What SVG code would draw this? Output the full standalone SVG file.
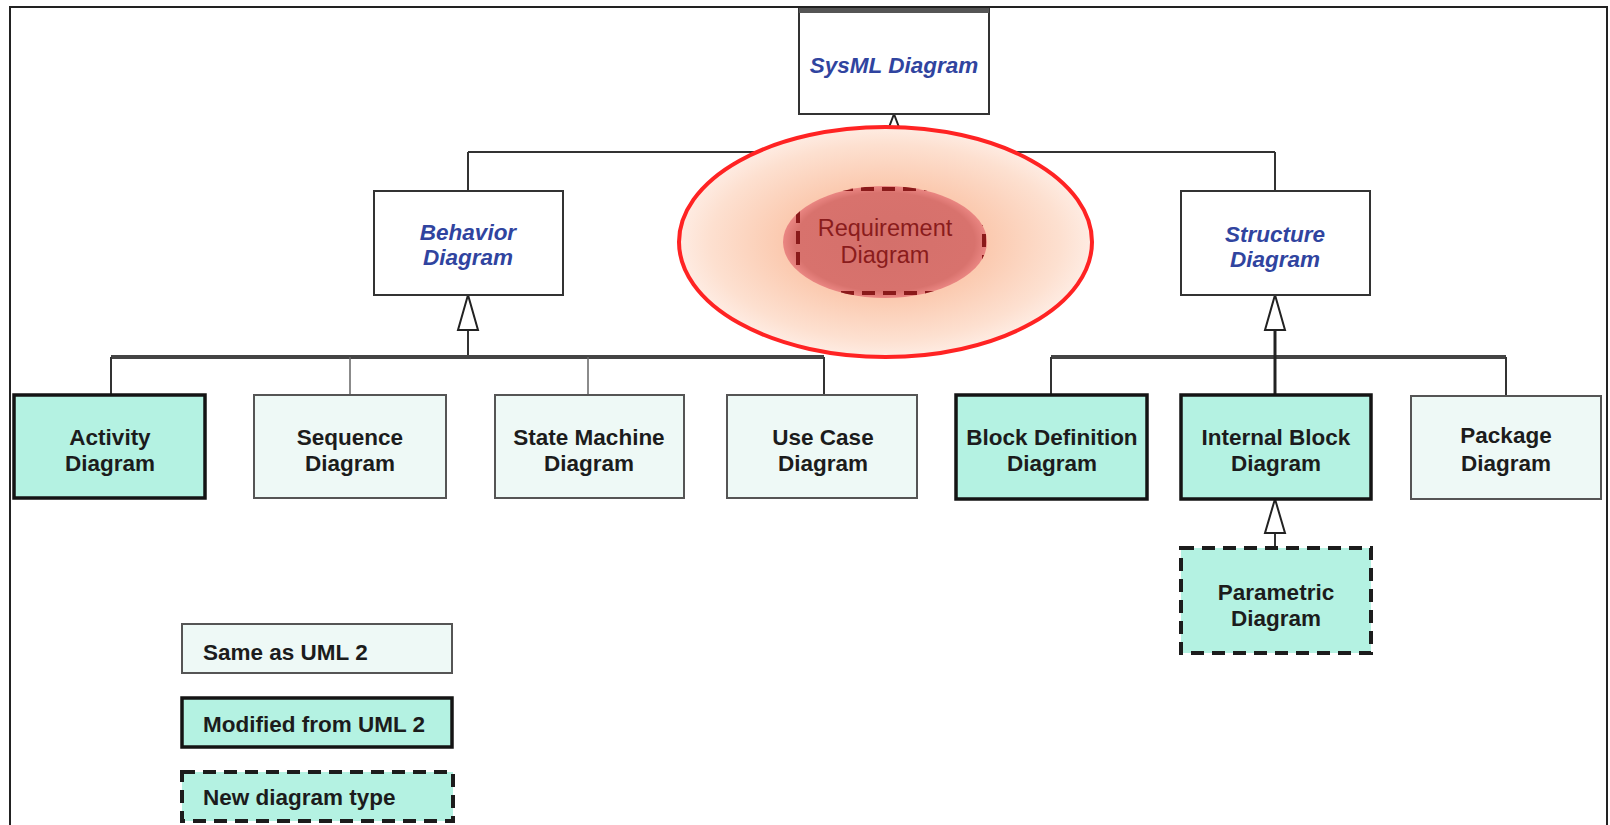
<svg xmlns="http://www.w3.org/2000/svg" width="1610" height="825" viewBox="0 0 1610 825">
  <defs>
    <style>
      .lbl { font-family: "Liberation Sans", Arial, sans-serif; font-size: 22.5px; font-weight: bold; text-anchor: middle; fill: #1c1c1c; }
      .abs { font-family: "Liberation Sans", Arial, sans-serif; font-size: 22.5px; font-weight: bold; font-style: italic; text-anchor: middle; fill: #30449f; }
      .leg { font-family: "Liberation Sans", Arial, sans-serif; font-size: 22.5px; font-weight: bold; fill: #1c1c1c; }
      .req { font-family: "Liberation Sans", Arial, sans-serif; font-size: 23.5px; text-anchor: middle; fill: #8a1c1c; }
      .abstract { fill: #ffffff; stroke: #333; stroke-width: 2; }
      .same { fill: #eef9f6; stroke: #555; stroke-width: 2; }
      .modified { fill: #b4f2e2; stroke: #141414; stroke-width: 3.5; }
      .newtype { fill: #b4f2e2; stroke: #1c1c1c; stroke-width: 4; stroke-dasharray: 13 8; }
      .wire { fill: none; stroke: #333; stroke-width: 2; }
      .bar { fill: none; stroke: #444; stroke-width: 4; }
      .gen { fill: #ffffff; stroke: #222; stroke-width: 2; }
    </style>
    <radialGradient id="halo" cx="50%" cy="50%" r="50%">
      <stop offset="0" stop-color="#f8b898"/>
      <stop offset="0.5" stop-color="#fbcab0"/>
      <stop offset="0.85" stop-color="#fde0d0"/>
      <stop offset="1" stop-color="#feece3"/>
    </radialGradient>
    <radialGradient id="core" cx="50%" cy="50%" r="50%">
      <stop offset="0" stop-color="#d4706b"/>
      <stop offset="0.88" stop-color="#d8726d"/>
      <stop offset="1" stop-color="#ea8682"/>
    </radialGradient>
    <clipPath id="coreClip">
      <ellipse cx="885" cy="242" rx="102" ry="56"/>
    </clipPath>
  </defs>

  <rect width="1610" height="825" fill="#ffffff"/>

  <!-- outer frame (open at the bottom) -->
  <path d="M10 825 V7 H1607 V825" fill="none" stroke="#222" stroke-width="2"/>

  <!-- connectors -->
  <g id="connectors">
    <!-- SysML Diagram to its two abstract children -->
    <path class="wire" d="M894 114 V152 M468 152 H1275 M468 152 V191 M1275 152 V191"/>
    <polygon class="gen" points="894,114 888,130 900,130"/>
    <!-- Behavior Diagram family -->
    <path class="wire" d="M468 330 V357"/>
    <path class="bar" d="M111 357 H824"/>
    <path class="wire" d="M111 357 V395 M824 357 V395"/>
    <path d="M350 357 V395 M588 357 V395" stroke="#666" stroke-width="1.5"/>
    <polygon class="gen" points="468,295 458,330 478,330"/>
    <!-- Structure Diagram family -->
    <path class="bar" d="M1051 357 H1506"/>
    <path class="wire" d="M1051 357 V395 M1506 357 V395"/>
    <path d="M1275 330 V395" stroke="#222" stroke-width="3"/>
    <polygon class="gen" points="1275,295 1265,330 1285,330"/>
    <!-- Internal Block to Parametric -->
    <path class="wire" d="M1275 533 V548"/>
    <polygon class="gen" points="1275,499 1265,533 1285,533"/>
  </g>

  <!-- abstract diagram kinds -->
  <g id="sysml">
    <rect class="abstract" x="799" y="9" width="190" height="105"/>
    <rect x="799" y="8" width="190" height="5" fill="#555"/>
    <text class="abs" x="894" y="73">SysML Diagram</text>
  </g>
  <g id="behavior">
    <rect class="abstract" x="374" y="191" width="189" height="104"/>
    <text class="abs" x="468" y="240">Behavior</text>
    <text class="abs" x="468" y="265">Diagram</text>
  </g>
  <g id="structure">
    <rect class="abstract" x="1181" y="191" width="189" height="104"/>
    <text class="abs" x="1275" y="242">Structure</text>
    <text class="abs" x="1275" y="267">Diagram</text>
  </g>

  <!-- highlighted requirement diagram -->
  <g id="requirement">
    <ellipse cx="885.5" cy="242" rx="206.5" ry="115" fill="url(#halo)" stroke="#ff2323" stroke-width="4"/>
    <ellipse cx="885" cy="242" rx="102" ry="56" fill="url(#core)"/>
    <rect x="798" y="189" width="186" height="104" fill="none" stroke="#8a1a1a" stroke-width="4" stroke-dasharray="13 8" clip-path="url(#coreClip)"/>
    <text class="req" x="885" y="236">Requirement</text>
    <text class="req" x="885" y="263">Diagram</text>
  </g>

  <!-- concrete diagram kinds -->
  <g id="activity">
    <rect class="modified" x="14" y="395" width="191" height="103"/>
    <text class="lbl" x="110" y="445">Activity</text>
    <text class="lbl" x="110" y="471">Diagram</text>
  </g>
  <g id="sequence">
    <rect class="same" x="254" y="395" width="192" height="103"/>
    <text class="lbl" x="350" y="445">Sequence</text>
    <text class="lbl" x="350" y="471">Diagram</text>
  </g>
  <g id="state-machine">
    <rect class="same" x="495" y="395" width="189" height="103"/>
    <text class="lbl" x="589" y="445">State Machine</text>
    <text class="lbl" x="589" y="471">Diagram</text>
  </g>
  <g id="use-case">
    <rect class="same" x="727" y="395" width="190" height="103"/>
    <text class="lbl" x="823" y="445">Use Case</text>
    <text class="lbl" x="823" y="471">Diagram</text>
  </g>
  <g id="block-definition">
    <rect class="modified" x="956" y="395" width="191" height="104"/>
    <text class="lbl" x="1052" y="445">Block Definition</text>
    <text class="lbl" x="1052" y="471">Diagram</text>
  </g>
  <g id="internal-block">
    <rect class="modified" x="1181" y="395" width="190" height="104"/>
    <text class="lbl" x="1276" y="445">Internal Block</text>
    <text class="lbl" x="1276" y="471">Diagram</text>
  </g>
  <g id="package">
    <rect class="same" x="1411" y="396" width="190" height="103"/>
    <text class="lbl" x="1506" y="443">Package</text>
    <text class="lbl" x="1506" y="471">Diagram</text>
  </g>
  <g id="parametric">
    <rect class="newtype" x="1181" y="548" width="190" height="105"/>
    <text class="lbl" x="1276" y="600">Parametric</text>
    <text class="lbl" x="1276" y="626">Diagram</text>
  </g>

  <!-- legend -->
  <g id="legend-same">
    <rect class="same" x="182" y="624" width="270" height="49"/>
    <text class="leg" x="203" y="660">Same as UML 2</text>
  </g>
  <g id="legend-modified">
    <rect class="modified" x="182" y="698" width="270" height="49"/>
    <text class="leg" x="203" y="732">Modified from UML 2</text>
  </g>
  <g id="legend-new">
    <rect class="newtype" x="182" y="772" width="271" height="49"/>
    <text class="leg" x="203" y="805">New diagram type</text>
  </g>
</svg>
